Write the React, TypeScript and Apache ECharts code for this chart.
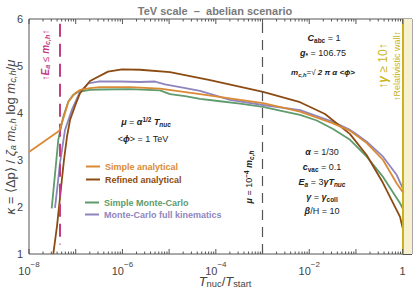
import React, { useEffect, useRef } from "react";
import * as echarts from "echarts";

// x values are log10(T_nuc / T_start)
const simpleAnalyticalLogT = [-8, -7.351, -7.229, -7.158, -7.015, -6.908, -6.694, -6.48, -5.837, -5.195, -4.338, -2.989, -2.197, -1.49, -1.126, -0.769, -0.42, -0.126, 0];
const simpleAnalyticalK = [3.17, 3.62, 4.0, 4.24, 4.42, 4.49, 4.53, 4.55, 4.55, 4.52, 4.4, 4.21, 4.03, 3.78, 3.62, 3.36, 3.0, 2.5, 2.32];

const refinedAnalyticalLogT = [-7.48, -7.4, -7.315, -7.251, -7.186, -7.122, -7.015, -6.908, -6.694, -6.308, -6.009, -5.623, -4.981, -4.124, -2.989, -2.197, -1.662, -1.126, -0.769, -0.42, -0.056, 0];
const refinedAnalyticalK = [1.0, 1.6, 2.4, 3.0, 3.5, 3.85, 4.15, 4.42, 4.68, 4.88, 4.93, 4.92, 4.87, 4.7, 4.45, 4.23, 3.98, 3.55, 3.1, 2.51, 1.79, 1.55];

const simpleMcLogT = [-7.514, -7.443, -7.373, -7.266, -7.158, -7.058, -6.944, -6.694, -6.48, -5.837, -5.195, -4.981, -4.66, -4.338, -3.91, -3.482, -2.989, -2.625, -2.197, -1.839, -1.49, -1.126, -0.769, -0.42, -0.056, 0];
const simpleMcK = [1.97, 2.7, 3.43, 3.92, 4.24, 4.38, 4.45, 4.49, 4.5, 4.51, 4.48, 4.4, 4.36, 4.3, 4.25, 4.2, 4.13, 4.05, 3.96, 3.84, 3.66, 3.43, 3.07, 2.64, 2.08, 1.97];

const fullKinLogT = [-7.443, -7.39, -7.336, -7.229, -7.086, -6.908, -6.73, -6.516, -6.051, -5.623, -5.302, -5.088, -4.767, -4.338, -3.696, -2.989, -2.197, -1.49, -1.126, -1.019, -0.769, -0.42, -0.126, 0];
const fullKinK = [1.98, 2.45, 2.94, 3.64, 4.06, 4.45, 4.63, 4.67, 4.67, 4.66, 4.67, 4.61, 4.55, 4.47, 4.28, 4.17, 4.06, 3.81, 3.64, 3.57, 3.39, 3.07, 2.68, 2.4];

const seriesNames = ["Simple analytical", "Refined analytical", "Simple Monte-Carlo", "Monte-Carlo full kinematics"];
const xLabelExponents = [-8, -6, -4, -2, 0];
const yTicks = [1, 2, 3, 4, 5, 6];

const muLineLogT = -3; // T = 10^-3
const eaLineLogT = -7.336;
const eaLineRange = [1.2, 5.9];
const wallLogT = [0, 0.2];

const FONT = "Liberation Sans, Arial, sans-serif";
const ORANGE = "#DA8A34";
const BROWN = "#8C4B12";
const GREEN = "#5F9B6C";
const PURPLE = "#8F85BE";
const MAGENTA = "#C43C82";
const YELLOW = "#C8B41E";

function zip(xs: number[], ys: number[]) {
  return xs.map((x, i) => [x, ys[i]]);
}

function richSet(fs: number, color: string, weight = "bold") {
  return {
    n: { fontSize: fs, color, fontWeight: weight, fontFamily: FONT },
    i: { fontSize: fs, color, fontWeight: weight, fontStyle: "italic", fontFamily: FONT },
    sub: { fontSize: fs * 0.72, color, fontWeight: weight, fontFamily: FONT, verticalAlign: "bottom", padding: [5, 0, 0, 0] },
    isub: { fontSize: fs * 0.72, color, fontWeight: weight, fontStyle: "italic", fontFamily: FONT, verticalAlign: "bottom", padding: [5, 0, 0, 0] },
    sup: { fontSize: fs * 0.72, color, fontWeight: weight, fontFamily: FONT, verticalAlign: "top", padding: [0, 0, 5, 0] },
  };
}

function label(x: number, y: number, text: string, fs: number, color: string, rot = 0, weight = "bold") {
  return {
    type: "text",
    x,
    y,
    rotation: rot,
    z: 20,
    style: {
      text,
      rich: richSet(fs, color, weight),
      align: "center",
      verticalAlign: "middle",
      fontFamily: FONT,
      fontSize: fs,
      fill: color,
    },
  };
}

export default function App() {
  const ref = useRef<HTMLDivElement>(null);
  useEffect(() => {
    document.body.style.margin = "0";
    const chart = echarts.init(ref.current!, null, { renderer: "svg" });

    const xTickData: number[][] = [];
    for (let n = -8; n <= 0; n++) {
      for (let k = 1; k <= 9; k++) {
        const v = n + Math.log10(k);
        if (v <= 0.2) xTickData.push([v, k === 1 ? 5 : 2.5]);
      }
    }

    const lineSeries = (name: string, xs: number[], ys: number[], color: string, z: number) => ({
      type: "line",
      name,
      data: zip(xs, ys),
      showSymbol: false,
      symbol: "none",
      lineStyle: { color, width: 1.8 },
      itemStyle: { color },
      z,
    });

    const option: any = {
      animation: false,
      backgroundColor: "#ffffff",
      title: {
        text: "TeV scale  –  abelian scenario",
        left: 210,
        textAlign: "center",
        top: 0,
        textStyle: { fontSize: 11, fontWeight: "bold", color: "#7a7a7a", fontFamily: FONT },
      },
      grid: { left: 29, right: 3, top: 19, bottom: 37, show: true, borderColor: "#555", borderWidth: 1, backgroundColor: "transparent" },
      xAxis: {
        type: "value",
        min: -8,
        max: 0.2,
        interval: 2,
        axisLine: { show: false },
        axisTick: { show: false },
        splitLine: { show: false },
        axisLabel: {
          margin: 6,
          showMaxLabel: false,
          formatter: (v: number) => {
            if (!xLabelExponents.includes(v)) return "";
            if (v === 0) return "{b|1}";
            return "{b|10}{s|−" + Math.abs(v) + "}";
          },
          rich: {
            b: { fontSize: 11, color: "#444", fontFamily: FONT, padding: [5, 0, 0, 0] },
            s: { fontSize: 8, color: "#444", fontFamily: FONT, verticalAlign: "top" },
          },
        },
      },
      yAxis: [
        {
          type: "value",
          min: 1,
          max: 6,
          interval: 1,
          axisLine: { show: false },
          axisTick: { show: true, inside: true, length: 5, lineStyle: { color: "#555" } },
          minorTick: { show: true, splitNumber: 5, length: 2.5, lineStyle: { color: "#555" } },
          splitLine: { show: false },
          minorSplitLine: { show: false },
          axisLabel: { color: "#444", fontSize: 11, fontFamily: FONT, margin: 6, formatter: (v: number) => (yTicks.includes(v) ? String(v) : "") },
        },
        {
          type: "value",
          position: "right",
          min: 1,
          max: 6,
          interval: 1,
          axisLine: { show: false },
          axisTick: { show: true, inside: true, length: 5, lineStyle: { color: "#555" } },
          minorTick: { show: true, splitNumber: 5, length: 2.5, lineStyle: { color: "#555" } },
          splitLine: { show: false },
          axisLabel: { show: false },
        },
      ],
      legend: [
        {
          left: 86,
          top: 162,
          orient: "vertical",
          icon: "rect",
          itemWidth: 14,
          itemHeight: 2,
          itemGap: 4,
          padding: 0,
          textStyle: { fontSize: 9, fontWeight: "bold", fontFamily: FONT },
          data: [
            { name: seriesNames[0], textStyle: { color: ORANGE } },
            { name: seriesNames[1], textStyle: { color: BROWN } },
          ],
        },
        {
          left: 85,
          top: 198,
          orient: "vertical",
          icon: "rect",
          itemWidth: 14,
          itemHeight: 2,
          itemGap: 3,
          padding: 0,
          textStyle: { fontSize: 9, fontWeight: "bold", fontFamily: FONT },
          data: [
            { name: seriesNames[2], textStyle: { color: GREEN } },
            { name: seriesNames[3], textStyle: { color: PURPLE } },
          ],
        },
      ],
      series: [
        {
          type: "custom",
          silent: true,
          z: 6,
          clip: false,
          encode: { x: 0, y: 1 },
          data: xTickData,
          renderItem: (params: any, api: any) => {
            const x = api.value(0);
            const len = api.value(1);
            const b = api.coord([x, 1]);
            const t = api.coord([x, 6]);
            return {
              type: "group",
              children: [
                { type: "line", shape: { x1: b[0], y1: b[1], x2: b[0], y2: b[1] - len }, style: { stroke: "#555", lineWidth: 1 } },
                { type: "line", shape: { x1: t[0], y1: t[1], x2: t[0], y2: t[1] + len }, style: { stroke: "#555", lineWidth: 1 } },
              ],
            };
          },
        },
        {
          type: "line",
          name: "_marks",
          data: [],
          silent: true,
          markArea: {
            silent: true,
            itemStyle: { color: "#F7F1D0" },
            data: [[{ xAxis: wallLogT[0] }, { xAxis: wallLogT[1] }]],
          },
          markLine: {
            silent: true,
            symbol: "none",
            label: { show: false },
            data: [
              { xAxis: muLineLogT, lineStyle: { color: "#555", width: 1.2, type: [10, 7] } },
              { xAxis: wallLogT[0], lineStyle: { color: YELLOW, width: 2, type: "solid" } },
              [
                { coord: [eaLineLogT, eaLineRange[1]], lineStyle: { color: MAGENTA, width: 2, type: [13, 7] } },
                { coord: [eaLineLogT, eaLineRange[0]] },
              ],
            ],
          },
          z: 3,
        },
        lineSeries(seriesNames[2], simpleMcLogT, simpleMcK, GREEN, 4),
        lineSeries(seriesNames[3], fullKinLogT, fullKinK, PURPLE, 4),
        lineSeries(seriesNames[1], refinedAnalyticalLogT, refinedAnalyticalK, BROWN, 4),
        lineSeries(seriesNames[0], simpleAnalyticalLogT, simpleAnalyticalK, ORANGE, 5),
      ],
      graphic: [
        label(10, 137, "{i|κ} = ⟨Δp⟩ / {i|ζ}{isub|a} {i|m}{isub|c,h} log {i|m}{isub|c,h}/{i|μ}", 13, "#444", Math.PI / 2, "normal"),
        label(225, 281, "{i|T}{sub|nuc}/{i|T}{sub|start}", 13, "#444", 0, "normal"),
        label(146, 122, "{i|μ} = {i|α}{sup|1/2} {i|T}{isub|nuc}", 9, "#222"),
        label(143, 139, "<{i|ϕ}> = 1 TeV", 9, "#222"),
        label(324, 38, "{i|C}{sub|abc} = 1", 9, "#222"),
        label(323, 53, "{i|g}{sub|*} = 106.75", 9, "#222"),
        label(323, 72, "{i|m}{isub|c,h}=√{i| 2 π α <ϕ>}", 8, "#222"),
        label(322, 152, "{i|α} = 1/30", 9, "#222"),
        label(322, 167, "{i|c}{sub|vac} = 0.1", 9, "#222"),
        label(322, 182, "{i|E}{isub|a} = 3{i|γT}{isub|nuc}", 9, "#222"),
        label(322, 197, "{i|γ} = {i|γ}{sub|coll}", 9, "#222"),
        label(322, 211, "{i|β}/H = 10", 9, "#222"),
        label(249, 177, "{i|μ} = 10{sup|−4} {i|m}{isub|c,h}", 9, "#222", Math.PI / 2),
        label(45, 55, "↑{i|E}{isub|a} ≤ {i|m}{isub|c,h}↑", 10, MAGENTA, Math.PI / 2),
        label(383, 66, "↑{i|γ} ≥ 10↑", 12, YELLOW, Math.PI / 2),
        label(397, 66, "↑Relativistic wall↑", 9, YELLOW, Math.PI / 2),
      ],
    };
    chart.setOption(option);
    return () => chart.dispose();
  }, []);
  return <div ref={ref} style={{ width: 415, height: 291 }} />;
}
